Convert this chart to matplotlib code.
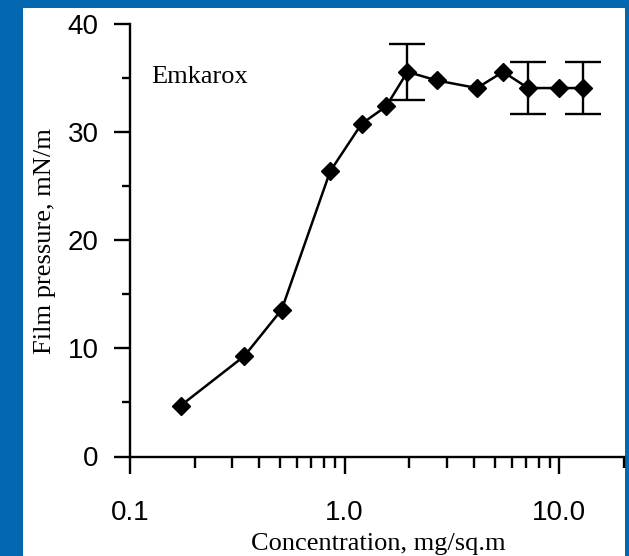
import matplotlib
matplotlib.use("Agg")
import matplotlib.pyplot as plt
from matplotlib.patches import Rectangle
from matplotlib.ticker import FixedLocator, FixedFormatter, LogLocator, NullFormatter, MultipleLocator

# concentration (mg/sq.m) and film pressure (mN/m)
conc = [0.172, 0.341, 0.509, 0.856, 1.20, 1.56, 1.96, 2.69, 4.13, 5.47, 7.15, 9.93, 12.9]
pressure = [4.7, 9.3, 13.6, 26.4, 30.8, 32.4, 35.6, 34.8, 34.1, 35.6, 34.1, 34.1, 34.1]

err_conc = [1.96, 7.15, 12.9]
err_pressure = [35.6, 34.1, 34.1]
err_size = [2.6, 2.4, 2.4]

xticks = [0.1, 1.0, 10.0]
xticklabels = ["0.1", "1.0", "10.0"]
yticks = [0, 10, 20, 30, 40]

blue = "#0468B1"
sans = ["Liberation Sans", "DejaVu Sans"]
serif = ["Liberation Serif", "DejaVu Serif"]

fig = plt.figure(figsize=(6.29, 5.56), dpi=100, facecolor=blue)
# white panel inside the blue frame
fig.patches.append(Rectangle((23 / 629, 0), 602 / 629, 548 / 556,
                             transform=fig.transFigure, facecolor="white",
                             edgecolor="none", zorder=-10))

ax = fig.add_axes([130 / 629, 99.5 / 556, 494 / 629, 432.2 / 556])
ax.set_facecolor("none")

ax.errorbar(err_conc, err_pressure, yerr=err_size, fmt="none", ecolor="black",
            elinewidth=1.7, capsize=13, capthick=1.7, clip_on=False, zorder=2)
ax.plot(conc, pressure, color="black", lw=1.8, marker="D", markersize=9,
        markerfacecolor="black", markeredgecolor="black", clip_on=False, zorder=3)

ax.set_xscale("log")
ax.set_xlim(0.1, 20)
ax.set_ylim(0, 40)

ax.xaxis.set_major_locator(FixedLocator(xticks))
ax.xaxis.set_major_formatter(FixedFormatter(xticklabels))
ax.xaxis.set_minor_locator(LogLocator(base=10, subs=[2, 3, 4, 5, 6, 7, 8, 9]))
ax.xaxis.set_minor_formatter(NullFormatter())
ax.yaxis.set_major_locator(FixedLocator(yticks))
ax.yaxis.set_minor_locator(MultipleLocator(5))

for s in ["top", "right"]:
    ax.spines[s].set_visible(False)
for s in ["left", "bottom"]:
    ax.spines[s].set_linewidth(1.7)

ax.tick_params(axis="x", which="major", direction="out", length=12.5, width=1.7, pad=19)
ax.tick_params(axis="x", which="minor", direction="out", length=8, width=1.7)
ax.tick_params(axis="y", which="major", direction="out", length=11.5, width=1.7, pad=11)
ax.tick_params(axis="y", which="minor", direction="out", length=5.8, width=1.7)
for lab in ax.get_xticklabels() + ax.get_yticklabels():
    lab.set_family(sans)
    lab.set_fontsize(20)

fig.text(378 / 629, 6 / 556, "Concentration, mg/sq.m", family=serif, fontsize=19,
         ha="center", va="baseline")
fig.text(45 / 629, 1 - 241 / 556, "Film pressure, mN/m", family=serif, fontsize=19,
         ha="center", va="center", rotation=90)
ax.text(0.0425, 0.864, "Emkarox", transform=ax.transAxes, family=serif, fontsize=19,
        ha="left", va="baseline")

fig.savefig("out.png", dpi=100, facecolor=blue)
